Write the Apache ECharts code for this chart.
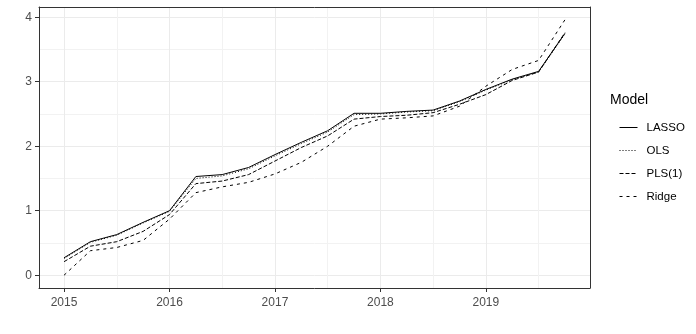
<!DOCTYPE html>
<html>
<head>
<meta charset="utf-8">
<script src="https://cdn.jsdelivr.net/npm/echarts@6/dist/echarts.min.js"></script>
<style>
  html, body { margin: 0; padding: 0; background: #fff; }
  #chart { width: 696px; height: 334px; }
</style>
</head>
<body>
<div id="chart"></div>
<script>
var quarters = [2015, 2015.25, 2015.5, 2015.75, 2016, 2016.25, 2016.5, 2016.75,
                2017, 2017.25, 2017.5, 2017.75, 2018, 2018.25, 2018.5, 2018.75,
                2019, 2019.25, 2019.5, 2019.75];
var lasso = [0.27, 0.52, 0.63, 0.82, 1.00, 1.53, 1.56, 1.67, 1.87, 2.06, 2.24, 2.51,
             2.51, 2.54, 2.56, 2.70, 2.88, 3.04, 3.16, 3.75];
var ols   = [0.26, 0.51, 0.62, 0.81, 0.99, 1.50, 1.54, 1.65, 1.85, 2.04, 2.22, 2.49,
             2.50, 2.53, 2.55, 2.69, 2.87, 3.03, 3.15, 3.74];
var pls   = [0.21, 0.45, 0.52, 0.68, 0.94, 1.42, 1.46, 1.56, 1.77, 1.98, 2.16, 2.42,
             2.46, 2.48, 2.52, 2.65, 2.80, 3.02, 3.15, 3.76];
var ridge = [0.00, 0.38, 0.43, 0.54, 0.87, 1.28, 1.37, 1.44, 1.57, 1.75, 2.00, 2.31,
             2.42, 2.44, 2.47, 2.62, 2.93, 3.19, 3.33, 3.96];
var modelNames = ['LASSO', 'OLS', 'PLS(1)', 'Ridge'];

var xRange = [2014.7625, 2019.9875];
var yRange = [-0.198, 4.158];

function pairs(vals) {
    return quarters.map(function (q, i) { return [q, vals[i]]; });
}

function lineSeries(name, vals, dash) {
    return {
        name: name,
        type: 'line',
        data: pairs(vals),
        symbol: 'none',
        showSymbol: false,
        silent: true,
        lineStyle: { color: '#000', width: 1, type: dash },
        itemStyle: { color: '#000' }
    };
}

var font = 'Liberation Sans, Arial, sans-serif';

// main axis: ticks, labels, grid lines, plus one side of the panel border
function mainAxis(range, position) {
    return {
        type: 'value',
        position: position,
        min: range[0],
        max: range[1],
        splitNumber: 5,
        axisLine: { show: true, onZero: false, lineStyle: { color: '#333', width: 1 } },
        axisTick: { show: true, length: 4, lineStyle: { color: '#333' } },
        axisLabel: {
            showMinLabel: false, showMaxLabel: false, margin: 7,
            fontFamily: font, fontSize: 12, color: '#4d4d4d',
            formatter: function (v) { return String(Math.round(v)); }
        },
        splitLine: { show: true, lineStyle: { color: '#ebebeb', width: 1 } },
        minorTick: { show: false, splitNumber: 2 },
        minorSplitLine: { show: true, lineStyle: { color: '#f2f2f2', width: 1 } }
    };
}

// opposite axis: only the border line
function borderAxis(range, position) {
    return {
        type: 'value',
        position: position,
        min: range[0],
        max: range[1],
        axisLine: { show: true, onZero: false, lineStyle: { color: '#333', width: 1 } },
        axisTick: { show: false },
        axisLabel: { show: false },
        splitLine: { show: false }
    };
}

var xMain = mainAxis(xRange, 'bottom');
xMain.axisLabel.margin = 9;

var option = {
    animation: false,
    title: {
        text: 'Model',
        left: 610,
        top: 93,
        padding: 0,
        textStyle: { fontFamily: font, fontSize: 14, fontWeight: 'normal', color: '#000' }
    },
    legend: {
        orient: 'vertical',
        left: 614,
        top: 116.5,
        itemWidth: 18,
        itemHeight: 12,
        itemGap: 11,
        data: modelNames,
        itemStyle: { opacity: 0 },
        lineStyle: { width: 1 },
        textStyle: { fontFamily: font, fontSize: 11.5, color: '#000', padding: [0, 0, 0, 4] }
    },
    grid: { left: 39, right: 106, top: 7, bottom: 46 },
    xAxis: [xMain, borderAxis(xRange, 'top')],
    yAxis: [mainAxis(yRange, 'left'), borderAxis(yRange, 'right')],
    series: [
        lineSeries('LASSO', lasso, 'solid'),
        lineSeries('OLS', ols, [1, 2]),
        lineSeries('PLS(1)', pls, [4, 2]),
        lineSeries('Ridge', ridge, [3, 4])
    ]
};

var chart = echarts.init(document.getElementById('chart'));
chart.setOption(option);
</script>
</body>
</html>
